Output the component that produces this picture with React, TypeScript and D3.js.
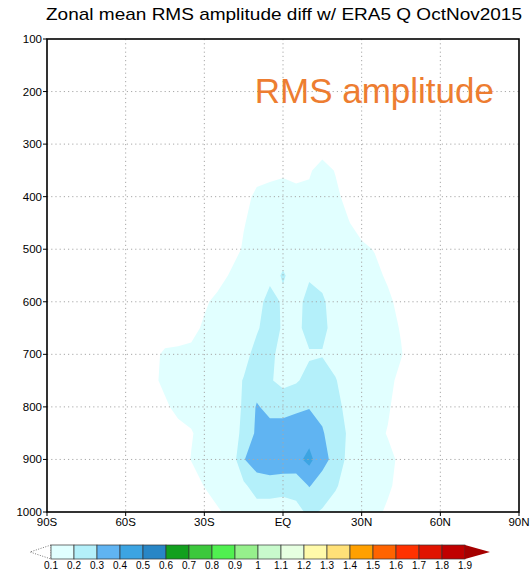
import React from 'react';
import * as d3 from 'd3';

const W = 530;
const H = 577;
const plot = { left: 47, right: 519, top: 39, bottom: 512 };

const latTicks = [-90, -60, -30, 0, 30, 60, 90];
const latLabels = ['90S', '60S', '30S', 'EQ', '30N', '60N', '90N'];
const presTicks = [100, 200, 300, 400, 500, 600, 700, 800, 900, 1000];

// grid (lat every 5 deg, pressure every 50 hPa)
const gridLats = [-60, -55, -50, -45, -40, -35, -30, -25, -20, -15, -10, -5, 0, 5, 10, 15, 20, 25, 30, 35, 40, 45, 50, 55];
const gridPres = [300, 350, 400, 450, 500, 550, 600, 650, 700, 750, 800, 850, 900, 950, 1000];
const rms = [
  [0, 0, 0, 0, 0, 0, 0, 0, 0, 0, 0, 0, 0, 0, 0, 0, 0, 0, 0, 0, 0, 0, 0, 0],
  [0, 0, 0, 0, 0, 0, 0, 0, 0, 0, 0.03, 0.06, 0.08, 0.07, 0.08, 0.17, 0.09, 0.03, 0, 0, 0, 0, 0, 0],
  [0, 0, 0, 0, 0, 0, 0, 0, 0, 0.04, 0.14, 0.15, 0.15, 0.13, 0.14, 0.16, 0.14, 0.04, 0, 0, 0, 0, 0, 0],
  [0, 0, 0, 0, 0, 0, 0, 0, 0.03, 0.09, 0.16, 0.17, 0.17, 0.17, 0.17, 0.17, 0.15, 0.11, 0.02, 0, 0, 0, 0, 0],
  [0, 0, 0, 0, 0, 0, 0, 0, 0.02, 0.12, 0.16, 0.17, 0.18, 0.17, 0.17, 0.17, 0.16, 0.15, 0.14, 0.09, 0.02, 0, 0, 0],
  [0, 0, 0, 0, 0, 0, 0, 0.02, 0.12, 0.16, 0.17, 0.18, 0.205, 0.18, 0.19, 0.18, 0.17, 0.16, 0.16, 0.15, 0.07, 0.01, 0, 0],
  [0, 0, 0, 0, 0, 0.02, 0.07, 0.15, 0.16, 0.17, 0.17, 0.23, 0.19, 0.17, 0.23, 0.21, 0.17, 0.16, 0.16, 0.15, 0.14, 0.04, 0, 0],
  [0, 0, 0, 0, 0.01, 0.04, 0.13, 0.15, 0.16, 0.17, 0.19, 0.24, 0.19, 0.17, 0.24, 0.22, 0.17, 0.16, 0.16, 0.16, 0.15, 0.09, 0.02, 0],
  [0, 0, 0.05, 0.13, 0.14, 0.15, 0.15, 0.16, 0.16, 0.17, 0.23, 0.22, 0.17, 0.17, 0.19, 0.195, 0.17, 0.16, 0.16, 0.15, 0.14, 0.11, 0.02, 0],
  [0, 0, 0.06, 0.14, 0.15, 0.15, 0.16, 0.16, 0.16, 0.205, 0.25, 0.21, 0.17, 0.19, 0.23, 0.24, 0.205, 0.16, 0.15, 0.15, 0.14, 0.06, 0, 0],
  [0, 0, 0.01, 0.07, 0.15, 0.15, 0.16, 0.17, 0.16, 0.21, 0.31, 0.27, 0.27, 0.28, 0.295, 0.27, 0.23, 0.17, 0.16, 0.15, 0.12, 0.02, 0, 0],
  [0, 0, 0, 0, 0.04, 0.09, 0.15, 0.16, 0.16, 0.22, 0.32, 0.34, 0.34, 0.36, 0.36, 0.31, 0.24, 0.19, 0.17, 0.15, 0.09, 0.03, 0, 0],
  [0, 0, 0, 0, 0.02, 0.105, 0.14, 0.15, 0.13, 0.295, 0.35, 0.36, 0.36, 0.37, 0.43, 0.33, 0.27, 0.17, 0.16, 0.15, 0.14, 0.07, 0, 0],
  [0, 0, 0, 0, 0, 0.03, 0.105, 0.15, 0.15, 0.18, 0.25, 0.26, 0.25, 0.24, 0.305, 0.26, 0.21, 0.16, 0.15, 0.14, 0.12, 0.06, 0, 0],
  [0, 0, 0, 0, 0, 0, 0.02, 0.085, 0.13, 0.14, 0.15, 0.14, 0.13, 0.17, 0.22, 0.19, 0.16, 0.15, 0.14, 0.13, 0.08, 0, 0, 0],
];

const levels = [0.1, 0.2, 0.3, 0.4, 0.5, 0.6, 0.7, 0.8, 0.9, 1.0, 1.1, 1.2, 1.3, 1.4, 1.5, 1.6, 1.7, 1.8, 1.9];
const levelLabels = ['0.1', '0.2', '0.3', '0.4', '0.5', '0.6', '0.7', '0.8', '0.9', '1', '1.1', '1.2', '1.3', '1.4', '1.5', '1.6', '1.7', '1.8', '1.9'];
const fills = [
  '#e1ffff', '#b4f0fa', '#60b4f2', '#3ca4e2', '#2886c6', '#12a01e', '#3cc83c', '#50f050', '#96f08c',
  '#c8facc', '#e6ffe1', '#fffaaa', '#ffe178', '#ffa000', '#ff6400', '#ff3200', '#e11400', '#c00000',
];
const overColor = '#a50000';

const title = 'Zonal mean RMS amplitude diff w/ ERA5 Q OctNov2015';
const note = 'RMS amplitude';

export default function App() {
  const x = d3.scaleLinear().domain([-90, 90]).range([plot.left, plot.right]);
  const y = d3.scaleLinear().domain([100, 1000]).range([plot.top, plot.bottom]);

  const nx = gridLats.length;
  const ny = gridPres.length;
  const ix = d3.scaleLinear().domain([0, nx - 1]).range([gridLats[0], gridLats[nx - 1]]);
  const iy = d3.scaleLinear().domain([0, ny - 1]).range([gridPres[0], gridPres[ny - 1]]);

  const proj = d3.geoTransform({
    point: function (px: number, py: number) {
      this.stream.point(x(ix(px - 0.5)), y(iy(py - 0.5)));
    },
  });
  const path = d3.geoPath(proj);

  const contours = d3.contours().size([nx, ny]).thresholds(levels)(rms.flat());
  const colorOf = (v: number) => {
    const i = levels.findIndex((l) => Math.abs(l - v) < 1e-6);
    return i < fills.length ? fills[i] : overColor;
  };

  // colorbar
  const cb = d3.scaleLinear().domain([0, fills.length]).range([51, 465]);
  const cbTop = 545;
  const cbBot = 559;
  const cbMid = (cbTop + cbBot) / 2;

  const font = '"Liberation Sans", Arial, sans-serif';

  return (
    <svg width={W} height={H} style={{ display: 'block', position: 'absolute', left: 0, top: 0, background: '#fff' }}>
      <defs>
        <clipPath id="plotClip">
          <rect x={plot.left} y={plot.top} width={plot.right - plot.left} height={plot.bottom - plot.top} />
        </clipPath>
      </defs>
      <rect x={0} y={0} width={W} height={H} fill="#fff" />

      <text x={(plot.left + plot.right) / 2 + 1} y={20} textAnchor="middle" fontFamily={font} fontSize={17}
        textLength={476} lengthAdjust="spacingAndGlyphs" fill="#000">{title}</text>

      <g clipPath="url(#plotClip)">
        {contours.map((c, i) => (
          <path key={i} d={path(c as any) || ''} fill={colorOf(c.value)} stroke="none" />
        ))}
      </g>

      {/* dotted grid */}
      <g stroke="#a8a8a8" strokeWidth={1} strokeDasharray="1.2,3">
        {latTicks.slice(1, -1).map((t) => (
          <line key={'gx' + t} x1={x(t)} x2={x(t)} y1={plot.top} y2={plot.bottom} />
        ))}
        {presTicks.slice(1, -1).map((t) => (
          <line key={'gy' + t} x1={plot.left} x2={plot.right} y1={y(t)} y2={y(t)} />
        ))}
      </g>

      {/* frame */}
      <rect x={plot.left} y={plot.top} width={plot.right - plot.left} height={plot.bottom - plot.top}
        fill="none" stroke="#000" strokeWidth={1.6} />

      {/* y axis */}
      {presTicks.map((t) => (
        <g key={'yt' + t}>
          <line x1={plot.left - 4} x2={plot.left} y1={y(t)} y2={y(t)} stroke="#000" strokeWidth={1} />
          <text x={plot.left - 5} y={y(t) + 4} textAnchor="end" fontFamily={font} fontSize={11.5} fill="#000">{t}</text>
        </g>
      ))}

      {/* x axis */}
      {latTicks.map((t, i) => (
        <g key={'xt' + t}>
          <line x1={x(t)} x2={x(t)} y1={plot.bottom} y2={plot.bottom + 4} stroke="#000" strokeWidth={1} />
          <text x={x(t)} y={plot.bottom + 14} textAnchor="middle" fontFamily={font} fontSize={11.5} fill="#000">{latLabels[i]}</text>
        </g>
      ))}

      <text x={494} y={103} textAnchor="end" fontFamily={font} fontSize={35} fill="#ED7D31">{note}</text>

      {/* colorbar */}
      <polygon points={`${cb(0)},${cbTop} ${30},${cbMid} ${cb(0)},${cbBot}`} fill="#fff" stroke="#555"
        strokeWidth={0.8} strokeDasharray="1,1.5" />
      {fills.map((f, i) => (
        <rect key={'cb' + i} x={cb(i)} y={cbTop} width={cb(i + 1) - cb(i)} height={cbBot - cbTop}
          fill={f} stroke="#333" strokeWidth={0.7} />
      ))}
      <polygon points={`${cb(fills.length)},${cbTop} ${490},${cbMid} ${cb(fills.length)},${cbBot}`} fill={overColor} />
      {levelLabels.map((l, i) => (
        <text key={'cl' + i} x={cb(i)} y={569} textAnchor="middle" fontFamily={font} fontSize={10} fill="#000">{l}</text>
      ))}
    </svg>
  );
}
